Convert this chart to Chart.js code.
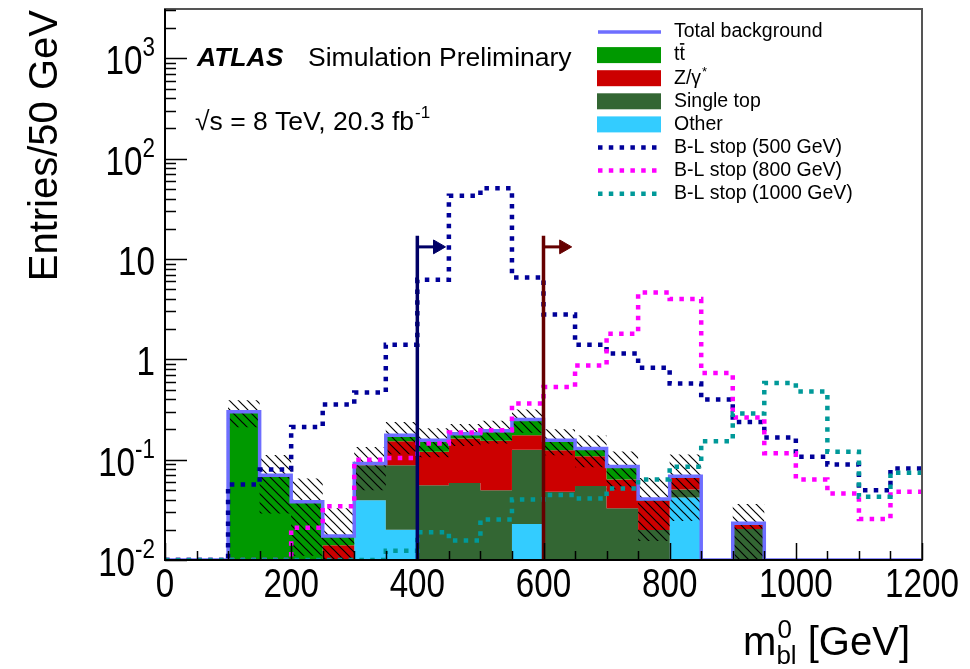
<!DOCTYPE html>
<html>
<head>
<meta charset="utf-8">
<title>m_bl distribution</title>
<script src="https://cdn.jsdelivr.net/npm/chart.js@4.4.1/dist/chart.umd.min.js"></script>
<style>
    html, body { margin: 0; padding: 0; background: #fff; }
    canvas { display: block; }
</style>
</head>
<body>
<canvas id="chart" width="970" height="669"></canvas>
<script>
'use strict';

// 50 GeV bins
const BIN_EDGES = [0, 50, 100, 150, 200, 250, 300, 350, 400, 450, 500, 550, 600,
    650, 700, 750, 800, 850, 900, 950, 1000, 1050, 1100, 1150, 1200];

// background components (entries / 50 GeV), stacked bottom to top
const OTHER = [0, 0, 0, 0, 0, 0, 0.0395, 0.020, 0, 0, 0, 0.0228,
    0, 0, 0, 0, 0.042, 0, 0, 0, 0, 0, 0, 0];
const SINGLE_TOP = [0, 0, 0, 0, 0, 0, 0.0485, 0.068, 0.0557, 0.0587, 0.0497, 0.103,
    0.0478, 0.0545, 0.0327, 0.0199, 0.0085, 0, 0.0204, 0, 0, 0, 0, 0];
const Z_GAMMA = [0, 0, 0, 0, 0, 0.014, 0.002, 0.065, 0.064, 0.104, 0.105, 0.049,
    0.076, 0.0535, 0.0309, 0.0191, 0.018, 0, 0.0028, 0, 0, 0, 0, 0];
const TTBAR = [0, 0, 0.30, 0.070, 0.038, 0.0033, 0.0015, 0.022, 0.036, 0.019, 0.040, 0.076,
    0.032, 0.021, 0.022, 0.0015, 0, 0, 0, 0, 0, 0, 0, 0];
// uncertainty on total background (hatched)
const BKG_ERR = [0, 0, 0.09, 0.041, 0.027, 0.0154, 0.042, 0.062, 0.05, 0.045, 0.05, 0.065,
    0.045, 0.045, 0.035, 0.025, 0.044, 0, 0.013, 0, 0, 0, 0, 0];

// B-L stop signals
const SIG_500 = [0, 0, 0.0566, 0.0798, 0.212, 0.354, 0.467, 1.40, 6.2, 42.6, 50.7, 6.55,
    2.8, 1.40, 1.14, 0.826, 0.573, 0.397, 0.238, 0.166, 0.107, 0.0895, 0.0497, 0.0817];
const SIG_800 = [0, 0, 0, 0, 0.021, 0.0344, 0.100, 0.104, 0.145, 0.187, 0.196, 0.362,
    0.53, 0.87, 1.80, 4.64, 4.0, 0.73, 0.263, 0.116, 0.0636, 0.046, 0.0256, 0.0478];
const SIG_1000 = [0, 0, 0, 0, 0, 0, 0, 0.0124, 0.0189, 0.0156, 0.0254, 0.040,
    0.0444, 0.041, 0.0516, 0.0636, 0.0848, 0.153, 0.288, 0.58, 0.478, 0.12, 0.0427, 0.074];

// signal region cuts (lower edge, arrow)
const CUT_X = [400, 600];
const CUT_TOP = 17;
const ARROW_Y = 13.2;
const ARROW_HEAD_X = [432, 632];

const X_LABELS = [0, 200, 400, 600, 800, 1000, 1200];
const Y_LABELS = [
    { value: 0.01, base: '10', exp: '-2' },
    { value: 0.1, base: '10', exp: '-1' },
    { value: 1, base: '1', exp: '' },
    { value: 10, base: '10', exp: '' },
    { value: 100, base: '10', exp: '2' },
    { value: 1000, base: '10', exp: '3' }
];
const Y_MIN = 0.01;
const Y_MAX = 3100;

const TOTAL_COLOR = '#6e6eff';
const TTBAR_COLOR = '#009900';
const Z_COLOR = '#cc0000';
const SINGLE_COLOR = '#336633';
const OTHER_COLOR = '#33ccff';
const SIG_500_COLOR = '#000099';
const SIG_800_COLOR = '#ff00ff';
const SIG_1000_COLOR = '#009999';
const CUT_COLORS = ['#000066', '#660000'];
const FONT = '"Liberation Sans", Arial, Helvetica, sans-serif';
const DOTS = [4.5, 6.3];

// one point per lower bin edge, plus the last upper edge ('before' steps keep the left value)
function stepData(values) {
    const pts = values.map((v, i) => ({ x: BIN_EDGES[i], y: Math.max(v, Y_MIN) }));
    pts.push({ x: BIN_EDGES[BIN_EDGES.length - 1], y: Math.max(values[values.length - 1], Y_MIN) });
    return pts;
}

function makeHatch() {
    const s = 9;
    const c = document.createElement('canvas');
    c.width = s;
    c.height = s;
    const g = c.getContext('2d');
    g.strokeStyle = '#000';
    g.lineWidth = 1.2;
    g.beginPath();
    g.moveTo(-1, -1); g.lineTo(s + 1, s + 1);
    g.moveTo(-s / 2, s / 2); g.lineTo(s / 2, s * 1.5);
    g.moveTo(s / 2, -s / 2); g.lineTo(s * 1.5, s / 2);
    g.stroke();
    return document.getElementById('chart').getContext('2d').createPattern(c, 'repeat');
}

// stack sums
const cumOther = OTHER.slice();
const cumSingle = cumOther.map((v, i) => v + SINGLE_TOP[i]);
const cumZ = cumSingle.map((v, i) => v + Z_GAMMA[i]);
const cumTT = cumZ.map((v, i) => v + TTBAR[i]);
const bandHi = cumTT.map((v, i) => v > 0 ? v + BKG_ERR[i] : 0);
const bandLo = cumTT.map((v, i) => v > 0 ? v - BKG_ERR[i] : 0);

const NONE = 'rgba(0,0,0,0)';
const datasets = [];

CUT_X.forEach((cx, k) => {
    datasets.push({
        data: [{ x: cx, y: Y_MIN }, { x: cx, y: CUT_TOP }],
        borderColor: CUT_COLORS[k], borderWidth: 3.5, stepped: false
    });
    datasets.push({
        data: [{ x: cx, y: ARROW_Y }, { x: ARROW_HEAD_X[k], y: ARROW_Y }],
        borderColor: CUT_COLORS[k], borderWidth: 3, stepped: false,
        pointRadius: [0, 8], pointStyle: 'triangle', pointRotation: 90,
        pointBackgroundColor: CUT_COLORS[k], pointBorderColor: CUT_COLORS[k], pointBorderWidth: 1
    });
});
datasets.push({ data: stepData(SIG_1000), borderColor: SIG_1000_COLOR, borderWidth: 4.5, borderDash: DOTS });
datasets.push({ data: stepData(SIG_800), borderColor: SIG_800_COLOR, borderWidth: 4.5, borderDash: DOTS });
datasets.push({ data: stepData(SIG_500), borderColor: SIG_500_COLOR, borderWidth: 4.5, borderDash: DOTS });
datasets.push({ data: stepData(cumTT), borderColor: TOTAL_COLOR, borderWidth: 3.5 });
const hiIdx = datasets.length;
datasets.push({ data: stepData(bandHi), borderColor: NONE, borderWidth: 0, fill: hiIdx + 1, backgroundColor: makeHatch() });
datasets.push({ data: stepData(bandLo), borderColor: NONE, borderWidth: 0 });
const stackIdx = datasets.length;
datasets.push({ data: stepData(cumTT), borderColor: NONE, borderWidth: 0, fill: stackIdx + 1, backgroundColor: TTBAR_COLOR });
datasets.push({ data: stepData(cumZ), borderColor: NONE, borderWidth: 0, fill: stackIdx + 2, backgroundColor: Z_COLOR });
datasets.push({ data: stepData(cumSingle), borderColor: NONE, borderWidth: 0, fill: stackIdx + 3, backgroundColor: SINGLE_COLOR });
datasets.push({ data: stepData(cumOther), borderColor: NONE, borderWidth: 0, fill: 'start', backgroundColor: OTHER_COLOR });

datasets.forEach((d, i) => {
    d.order = i;
    if (d.stepped === undefined) d.stepped = 'before';
    if (d.pointRadius === undefined) d.pointRadius = 0;
    if (d.fill === undefined) d.fill = false;
});

const LEGEND_ROWS = [
    { label: 'Total background', kind: 'line', color: TOTAL_COLOR },
    { label: 'tt', kind: 'box', color: TTBAR_COLOR, bar: true },
    { label: 'Z/\u03b3', kind: 'box', color: Z_COLOR, star: true },
    { label: 'Single top', kind: 'box', color: SINGLE_COLOR },
    { label: 'Other', kind: 'box', color: OTHER_COLOR },
    { label: 'B-L stop (500 GeV)', kind: 'dots', color: SIG_500_COLOR },
    { label: 'B-L stop (800 GeV)', kind: 'dots', color: SIG_800_COLOR },
    { label: 'B-L stop (1000 GeV)', kind: 'dots', color: SIG_1000_COLOR }
];

function font(size, style) {
    return (style ? style + ' ' : '') + size + 'px ' + FONT;
}

// squeezed text, like the narrow axis labels of the original
function narrowText(ctx, str, x, y, sx) {
    ctx.save();
    ctx.translate(x, y);
    ctx.scale(sx, 1);
    ctx.fillText(str, 0, 0);
    ctx.restore();
}

const decor = {
    id: 'decor',
    afterDraw(chart) {
        const ctx = chart.ctx;
        const a = chart.chartArea;
        const xs = chart.scales.x;
        const ys = chart.scales.y;
        ctx.save();

        // frame
        ctx.strokeStyle = '#555';
        ctx.lineWidth = 2;
        ctx.strokeRect(a.left, a.top, a.right - a.left, a.bottom - a.top);
        ctx.strokeStyle = '#000';
        ctx.beginPath();
        ctx.moveTo(a.left, a.top); ctx.lineTo(a.left, a.bottom); ctx.lineTo(a.right, a.bottom);
        ctx.stroke();

        // ticks, pointing inside
        ctx.lineWidth = 1.5;
        ctx.beginPath();
        BIN_EDGES.forEach((v) => {
            const px = Math.round(xs.getPixelForValue(v)) + 0.5;
            const len = X_LABELS.includes(v) ? 17 : 9;
            ctx.moveTo(px, a.bottom); ctx.lineTo(px, a.bottom - len);
        });
        for (let d = -2; d <= 3; d++) {
            for (let m = 1; m <= 9; m++) {
                const v = m * Math.pow(10, d);
                if (v > Y_MAX) break;
                const py = Math.round(ys.getPixelForValue(v)) + 0.5;
                ctx.moveTo(a.left, py); ctx.lineTo(a.left + (m === 1 ? 22 : 11), py);
            }
        }
        ctx.stroke();

        ctx.fillStyle = '#000';
        ctx.textBaseline = 'alphabetic';

        // x tick labels
        ctx.textAlign = 'center';
        ctx.font = font(40);
        X_LABELS.forEach((v) => {
            narrowText(ctx, String(v), xs.getPixelForValue(v), a.bottom + 37, 0.83);
        });

        // y tick labels
        ctx.textAlign = 'left';
        Y_LABELS.forEach((l) => {
            const py = ys.getPixelForValue(l.value);
            ctx.font = font(40);
            const wb = ctx.measureText(l.base).width * 0.83;
            ctx.font = font(27);
            const we = l.exp ? ctx.measureText(l.exp).width * 0.83 : 0;
            const left = a.left - 10 - wb - we;
            ctx.font = font(40);
            narrowText(ctx, l.base, left, py + 16, 0.83);
            if (l.exp) {
                ctx.font = font(27);
                narrowText(ctx, l.exp, left + wb, py - 2, 0.83);
            }
        });

        // axis titles
        ctx.save();
        ctx.translate(57, 10);
        ctx.rotate(-Math.PI / 2);
        ctx.textAlign = 'right';
        ctx.font = font(40);
        ctx.fillText('Entries/50 GeV', 0, 0);
        ctx.restore();

        ctx.textAlign = 'left';
        ctx.font = font(40);
        const wm = ctx.measureText('m').width;
        const wg = ctx.measureText(' [GeV]').width;
        ctx.font = font(26);
        const wbl = ctx.measureText('bl').width;
        const xt = 910 - wg - wbl - wm;
        ctx.font = font(40);
        ctx.fillText('m', xt, 655);
        ctx.fillText(' [GeV]', xt + wm + wbl, 655);
        ctx.font = font(26);
        ctx.fillText('bl', xt + wm, 664);
        ctx.fillText('0', xt + wm + 1, 638);

        // ATLAS label
        ctx.font = font(26.5, 'italic bold');
        ctx.fillText('ATLAS', 197, 66);
        ctx.font = font(26.5);
        ctx.fillText('Simulation Preliminary', 308, 66);
        ctx.fillText('\u221as = 8 TeV, 20.3 fb', 195, 130);
        const wl = ctx.measureText('\u221as = 8 TeV, 20.3 fb').width;
        ctx.font = font(17);
        ctx.fillText('-1', 195 + wl + 1, 118);

        // legend
        ctx.textBaseline = 'middle';
        LEGEND_ROWS.forEach((r, i) => {
            const cy = 32 + i * 23.1;
            if (r.kind === 'box') {
                ctx.fillStyle = r.color;
                ctx.fillRect(597, cy - 8, 64, 16);
            } else {
                ctx.strokeStyle = r.color;
                ctx.lineWidth = r.kind === 'line' ? 3.5 : 4.5;
                ctx.setLineDash(r.kind === 'dots' ? DOTS : []);
                ctx.beginPath();
                ctx.moveTo(598, cy); ctx.lineTo(661, cy);
                ctx.stroke();
                ctx.setLineDash([]);
            }
            ctx.fillStyle = '#000';
            ctx.font = font(19.5);
            ctx.fillText(r.label, 674, cy);
            const w = ctx.measureText(r.label).width;
            if (r.bar) {
                const wt = ctx.measureText('t').width;
                ctx.fillRect(674 + wt + 0.5, cy - 12, wt - 1, 1.6);
            }
            if (r.star) {
                ctx.font = font(13);
                ctx.fillText('*', 674 + w + 1, cy - 6);
            }
        });

        ctx.restore();
    }
};

new Chart(document.getElementById('chart'), {
    type: 'line',
    data: { datasets: datasets },
    options: {
        responsive: false,
        animation: false,
        devicePixelRatio: 1,
        layout: { padding: { left: 165, right: 48, top: 7, bottom: 109 } },
        scales: {
            x: { type: 'linear', min: 0, max: 1200, display: false },
            y: { type: 'logarithmic', min: Y_MIN, max: Y_MAX, display: false }
        },
        plugins: {
            legend: { display: false },
            tooltip: { enabled: false }
        }
    },
    plugins: [decor]
});
</script>
</body>
</html>
